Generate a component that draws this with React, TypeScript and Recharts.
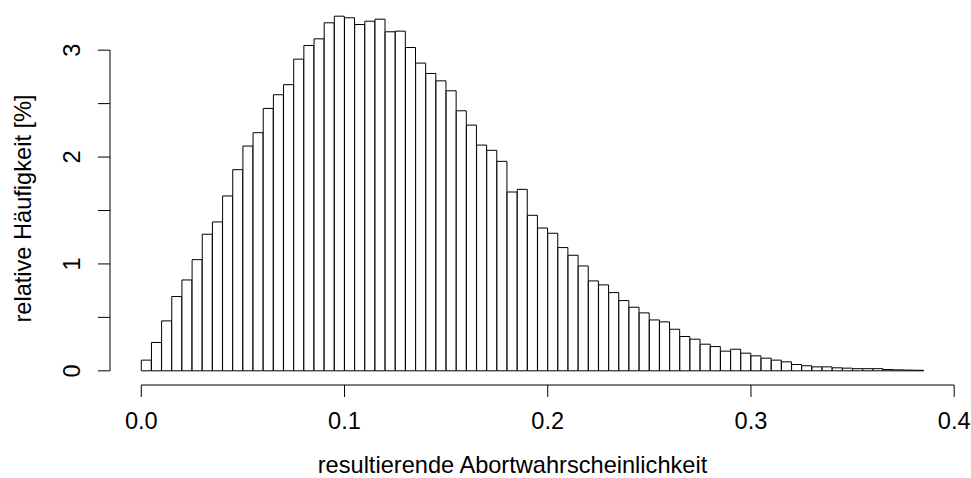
import React from 'react';
import { BarChart, Bar, XAxis, YAxis, ReferenceLine } from 'recharts';

// relative Häufigkeit [%] je Klasse (Klassenbreite 0.005, von 0 bis 0.385)
const binWidth = 0.005;
const percent = [
  0.1, 0.265, 0.467, 0.695, 0.85, 1.04, 1.278, 1.393, 1.636, 1.882,
  2.103, 2.228, 2.455, 2.583, 2.677, 2.916, 3.044, 3.106, 3.256, 3.318,
  3.303, 3.24, 3.271, 3.29, 3.172, 3.178, 3.025, 2.879, 2.782, 2.713,
  2.62, 2.433, 2.299, 2.112, 2.063, 1.96, 1.673, 1.698, 1.455, 1.336,
  1.287, 1.153, 1.081, 0.981, 0.841, 0.804, 0.732, 0.657, 0.595, 0.542,
  0.476, 0.458, 0.389, 0.321, 0.296, 0.249, 0.227, 0.184, 0.202, 0.165,
  0.14, 0.118, 0.1, 0.084, 0.059, 0.047, 0.037, 0.037, 0.028, 0.025,
  0.02, 0.02, 0.02, 0.012, 0.009, 0.007, 0.005,
];
const xTicks = [0, 0.1, 0.2, 0.3, 0.4];
const yTicks = [0, 0.5, 1, 1.5, 2, 2.5, 3];
const yLabels = [0, 1, 2, 3];

const xLabel = 'resultierende Abortwahrscheinlichkeit';
const yLabel = 'relative Häufigkeit [%]';

const data = percent.map((p, i) => ({ mid: (i + 0.5) * binWidth, p }));

// R-style 4% axis extension
const xMax = percent.length * binWidth;
const yPeak = Math.max(...percent);
const xDomain = [-0.04 * xMax, xMax * 1.04];
const yDomain = [-0.04 * yPeak, yPeak * 1.04];

const font = '"Liberation Sans", Arial, Helvetica, sans-serif';
const fontSize = 23.6;

const YTick = (props: any) => {
  const { x, y, payload } = props;
  if (!yLabels.includes(payload.value)) return null;
  return (
    <text
      x={x}
      y={y}
      transform={`rotate(-90 ${x} ${y})`}
      textAnchor="middle"
      fontSize={fontSize}
      fontFamily={font}
      fill="#000"
    >
      {payload.value}
    </text>
  );
};

const YTitle = (props: any) => {
  const { viewBox } = props;
  const bx = viewBox.x + 31;
  const cy = viewBox.y + viewBox.height / 2 + 15;
  return (
    <text
      x={bx}
      y={cy}
      transform={`rotate(-90 ${bx} ${cy})`}
      textAnchor="middle"
      fontSize={fontSize}
      fontFamily={font}
      fill="#000"
    >
      {yLabel}
    </text>
  );
};

const XTitle = (props: any) => {
  const { viewBox } = props;
  return (
    <text
      x={viewBox.x + viewBox.width / 2 - 20}
      y={viewBox.y + 88}
      textAnchor="middle"
      fontSize={fontSize}
      fontFamily={font}
      fill="#000"
    >
      {xLabel}
    </text>
  );
};

export default function App() {
  return (
    <div style={{ position: 'absolute', left: 0, top: 0, background: '#fff' }}>
      <BarChart
        width={971}
        height={478}
        data={data}
        margin={{ top: 2, right: 16, bottom: 0, left: 0 }}
        barCategoryGap={0}
        barGap={0}
      >
        <XAxis
          dataKey="mid"
          type="number"
          domain={xDomain}
          allowDataOverflow
          ticks={xTicks}
          interval={0}
          tickFormatter={(v: number) => v.toFixed(1)}
          height={93}
          tickSize={12}
          tickMargin={15}
          axisLine={false}
          tickLine={{ stroke: '#000' }}
          tick={{ fill: '#000', fontSize, fontFamily: font }}
          label={<XTitle />}
        />
        <YAxis
          type="number"
          domain={yDomain}
          allowDataOverflow
          ticks={yTicks}
          interval={0}
          width={110}
          tickSize={12}
          tickMargin={18}
          axisLine={false}
          tickLine={{ stroke: '#000' }}
          tick={<YTick />}
          label={<YTitle />}
        />
        <Bar dataKey="p" fill="#fff" stroke="#000" strokeWidth={1} isAnimationActive={false} />
        <ReferenceLine
          segment={[{ x: 0, y: yDomain[0] }, { x: 0.4, y: yDomain[0] }]}
          stroke="#000"
          ifOverflow="visible"
        />
        <ReferenceLine
          segment={[{ x: xDomain[0], y: 0 }, { x: xDomain[0], y: 3 }]}
          stroke="#000"
          ifOverflow="visible"
        />
      </BarChart>
    </div>
  );
}
